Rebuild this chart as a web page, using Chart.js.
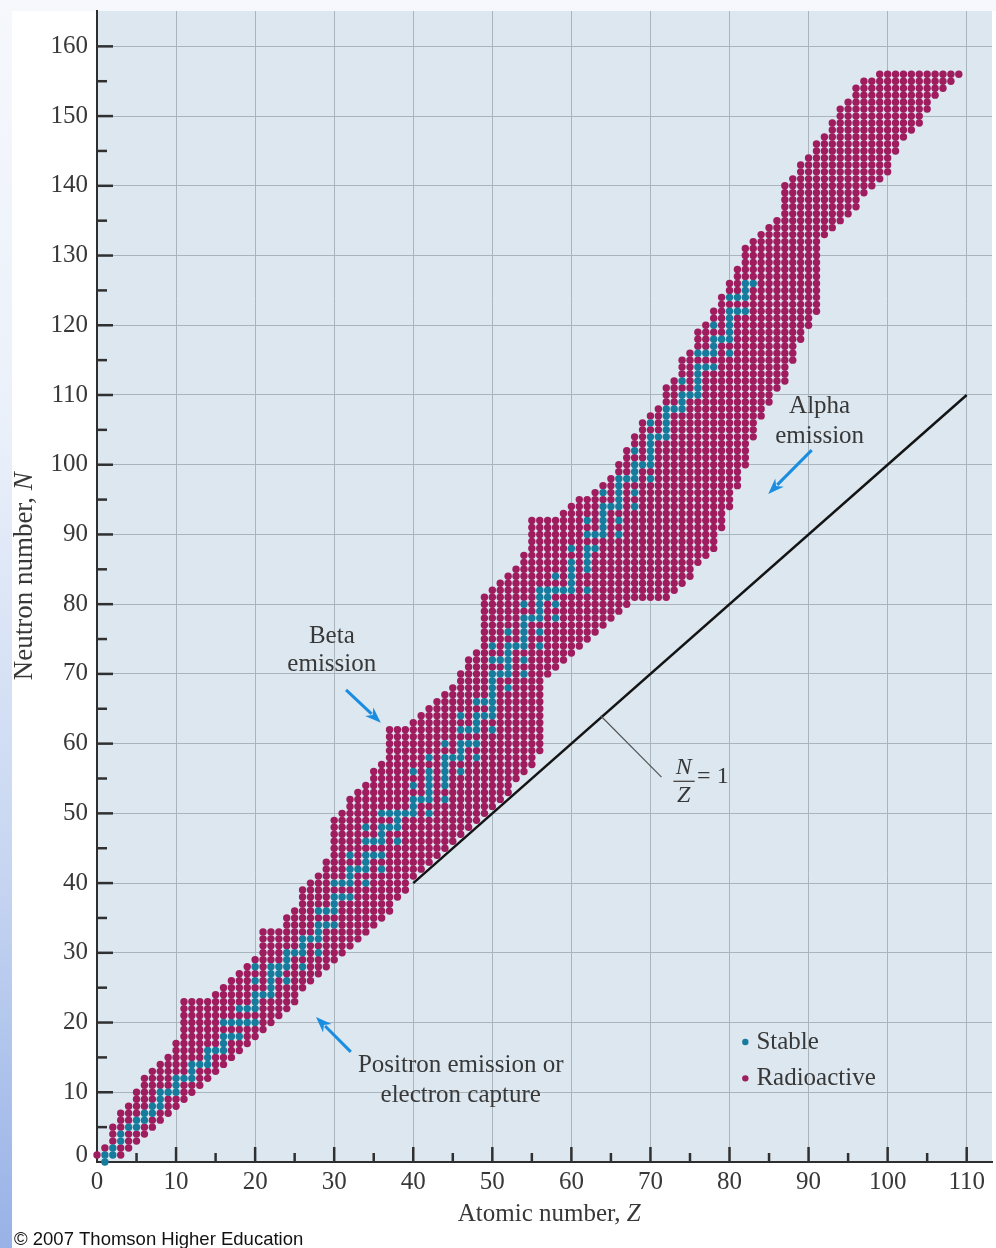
<!DOCTYPE html>
<html>
<head>
<meta charset="utf-8">
<title>Stable and radioactive nuclides</title>
<script src="https://cdn.jsdelivr.net/npm/chart.js@4.4.1/dist/chart.umd.min.js"></script>
<style>
  html, body { margin: 0; padding: 0; }
  body {
    width: 996px; height: 1248px; overflow: hidden;
    background: linear-gradient(#f6f8fc 0%, #eaf0fa 35%, #c6d5f1 70%, #98b2e7 100%);
  }
  canvas { display: block; }
</style>
</head>
<body>
<canvas id="nuclideChart" width="996" height="1248"></canvas>
<script>
//  Atomic numbers Z = 0 .. 109 (index = Z)
//  lowest and highest neutron number N drawn for each Z
const minNeutrons = [
  1, 0, 1, 1, 2, 3, 4, 5, 6, 7,
  8, 9, 10, 11, 12, 13, 14, 15, 16, 17,
  18, 19, 20, 21, 22, 23, 25, 26, 27, 28,
  29, 30, 31, 32, 33, 34, 35, 36, 38, 39,
  41, 42, 43, 44, 45, 46, 47, 48, 49, 50,
  51, 52, 53, 55, 56, 57, 59, 70, 71, 72,
  73, 74, 75, 76, 77, 78, 79, 80, 81, 81,
  81, 81, 81, 82, 83, 84, 86, 87, 88, 91,
  94, 97, 100, 104, 107, 109, 111, 112, 115, 118,
  120, 122, 133, 134, 135, 136, 137, 139, 140, 141,
  142, 145, 147, 148, 149, 151, 153, 154, 155, 156
];
const maxNeutrons = [
  1, 2, 5, 7, 8, 10, 12, 13, 14, 15,
  17, 23, 23, 23, 23, 24, 25, 26, 27, 28,
  29, 33, 33, 33, 35, 36, 39, 40, 41, 43,
  49, 50, 52, 53, 54, 56, 57, 62, 62, 62,
  63, 64, 65, 66, 67, 68, 70, 72, 73, 81,
  82, 83, 84, 85, 87, 92, 92, 92, 92, 93,
  94, 95, 95, 96, 97, 98, 100, 102, 104, 106,
  107, 108, 111, 112, 115, 116, 119, 120, 122, 124,
  126, 128, 131, 132, 133, 134, 135, 140, 141, 143,
  144, 146, 147, 149, 151, 152, 154, 155, 155, 156,
  156, 156, 156, 156, 156, 156, 156, 156, 156, 156
];
//  stable nuclides: neutron numbers for each Z (index = Z)
const stableNeutrons = [
  [], [0, 1], [1, 2], [3, 4], [5], [5, 6], [6, 7], [7, 8], [8, 9, 10], [10],
  [10, 11, 12], [12], [12, 13, 14], [14], [14, 15, 16], [16], [16, 17, 18, 20], [18, 20], [18, 20, 22], [20, 22],
  [20, 22, 23, 24, 26, 28], [24], [24, 25, 26, 27, 28], [27, 28], [26, 28, 29, 30], [30], [28, 30, 31, 32], [32], [30, 32, 33, 34, 36], [34, 36],
  [34, 36, 37, 38, 40], [38, 40], [38, 40, 41, 42, 44], [42], [40, 42, 43, 44, 46, 48], [44, 46], [42, 44, 46, 47, 48, 50], [48, 50], [46, 48, 49, 50], [50],
  [50, 51, 52, 54, 56], [52], [50, 52, 53, 54, 55, 56, 58], [], [52, 54, 55, 56, 57, 58, 60], [58], [56, 58, 59, 60, 62, 64], [60, 62], [58, 60, 62, 63, 64, 66], [64, 66],
  [62, 64, 65, 66, 67, 68, 69, 70, 72, 74], [70, 72], [68, 70, 71, 72, 73, 74, 76], [74], [70, 72, 74, 75, 76, 77, 78, 80], [78], [74, 76, 78, 79, 80, 81, 82], [81, 82], [78, 80, 82, 84], [82],
  [82, 83, 84, 85, 86, 88], [], [82, 85, 86, 87, 88, 90, 92], [88, 90], [90, 91, 92, 93, 94, 96], [94], [90, 92, 94, 95, 96, 97, 98], [98], [94, 96, 98, 99, 100, 102], [100],
  [98, 100, 101, 102, 103, 104, 106], [104], [104, 105, 106, 107, 108], [108], [108, 109, 110, 112], [110], [110, 111, 112, 113, 114, 116], [114, 116], [114, 116, 117, 118, 120], [118],
  [116, 118, 119, 120, 121, 122, 124], [122, 124], [122, 124, 125, 126], [126]
];
//  tick labels and the N/Z = 1 reference line
const zTicks = [0, 10, 20, 30, 40, 50, 60, 70, 80, 90, 100, 110];
const nTicks = [0, 10, 20, 30, 40, 50, 60, 70, 80, 90, 100, 110, 120, 130, 140, 150, 160];
const equalLineZ = [40, 110];

const serif = "'Liberation Serif', 'Times New Roman', serif";
const textColor = '#383838';
const stableColor = '#167b9d';
const radioColor = '#9f1c5e';

//******************************************************************************
//  build the point lists from the per-Z ranges
//******************************************************************************
let stablePoints = [];
let radioPoints = [];
for (let z = 0; z < minNeutrons.length; z++) {
  const stable = stableNeutrons[z] || [];
  for (let n = minNeutrons[z]; n <= maxNeutrons[z]; n++) {
    if (stable.indexOf(n) >= 0) {
      stablePoints.push({ x: z, y: n });
    } else {
      radioPoints.push({ x: z, y: n });
    }
  }
}

//******************************************************************************
//  white panel, blue plot background
//******************************************************************************
const panelBackground = {
  id: 'panelBackground',
  beforeDraw(chart) {
    const { ctx, chartArea: a } = chart;
    ctx.save();
    ctx.fillStyle = '#ffffff';
    ctx.fillRect(12, 11, chart.width - 12, chart.height - 11);
    ctx.fillStyle = '#dce7ef';
    ctx.fillRect(a.left, a.top, a.right - a.left, a.bottom - a.top);
    ctx.restore();
  }
};

function drawArrow(ctx, x1, y1, x2, y2) {
  const ang = Math.atan2(y2 - y1, x2 - x1);
  const head = 16;
  ctx.beginPath();
  ctx.moveTo(x1, y1);
  ctx.lineTo(x2 - Math.cos(ang) * head * 0.8, y2 - Math.sin(ang) * head * 0.8);
  ctx.stroke();
  ctx.beginPath();
  ctx.moveTo(x2, y2);
  ctx.lineTo(x2 - head * Math.cos(ang) + 6 * Math.sin(ang), y2 - head * Math.sin(ang) - 6 * Math.cos(ang));
  ctx.lineTo(x2 - head * 0.7 * Math.cos(ang), y2 - head * 0.7 * Math.sin(ang));
  ctx.lineTo(x2 - head * Math.cos(ang) - 6 * Math.sin(ang), y2 - head * Math.sin(ang) + 6 * Math.cos(ang));
  ctx.closePath();
  ctx.fill();
}

//  text made of plain and italic pieces, centred on (cx, cy)
function drawMixed(ctx, parts, cx, cy, size) {
  let total = 0;
  for (let p of parts) {
    ctx.font = (p[1] ? 'italic ' : '') + size + 'px ' + serif;
    total += ctx.measureText(p[0]).width;
  }
  let x = cx - total / 2;
  ctx.textAlign = 'left';
  for (let p of parts) {
    ctx.font = (p[1] ? 'italic ' : '') + size + 'px ' + serif;
    ctx.fillText(p[0], x, cy);
    x += ctx.measureText(p[0]).width;
  }
}

//******************************************************************************
//  inward tick marks, axis titles, notes, legend and credit line
//******************************************************************************
const chartNotes = {
  id: 'chartNotes',
  afterDraw(chart) {
    const { ctx, chartArea: a, scales: { x, y } } = chart;
    const px = (z) => x.getPixelForValue(z);
    const py = (n) => y.getPixelForValue(n);
    ctx.save();

    // tick marks pointing into the plot
    ctx.strokeStyle = '#303030';
    ctx.lineWidth = 2.5;
    for (let v = 5; v <= 110; v += 5) {
      const len = v % 10 ? 9 : 15;
      ctx.beginPath();
      ctx.moveTo(px(v), a.bottom);
      ctx.lineTo(px(v), a.bottom - len);
      ctx.stroke();
    }
    for (let v = 5; v <= 160; v += 5) {
      const len = v % 10 ? 10 : 16;
      ctx.beginPath();
      ctx.moveTo(a.left, py(v));
      ctx.lineTo(a.left + len, py(v));
      ctx.stroke();
    }

    ctx.fillStyle = textColor;
    ctx.textBaseline = 'middle';

    // the y "0" label sits a little above the axis line
    ctx.font = '25px ' + serif;
    ctx.textAlign = 'right';
    ctx.fillText('0', a.left - 9, py(0) - 7);

    // axis titles
    drawMixed(ctx, [['Atomic number, ', false], ['Z', true]], px(57.2), 1214, 25);
    ctx.save();
    ctx.translate(25, py(84));
    ctx.rotate(-Math.PI / 2);
    drawMixed(ctx, [['Neutron number, ', false], ['N', true]], 0, 0, 27);
    ctx.restore();

    // notes
    ctx.font = '25px ' + serif;
    ctx.textAlign = 'center';
    ctx.fillText('Beta', px(29.7), py(75.4));
    ctx.fillText('emission', px(29.7), py(71.3));
    ctx.fillText('Positron emission or', px(46.0), py(13.8));
    ctx.fillText('electron capture', px(46.0), py(9.6));
    ctx.fillText('Alpha', px(91.4), py(108.3));
    ctx.fillText('emission', px(91.4), py(104.1));

    ctx.strokeStyle = '#1b8de0';
    ctx.fillStyle = '#1b8de0';
    ctx.lineWidth = 3;
    drawArrow(ctx, px(31.5), py(67.7), px(35.9), py(63.0));
    drawArrow(ctx, px(32.1), py(15.8), px(27.7), py(20.8));
    drawArrow(ctx, px(90.4), py(102.1), px(84.9), py(95.8));

    // N/Z = 1 label with leader line
    ctx.strokeStyle = '#555';
    ctx.lineWidth = 1.2;
    ctx.beginPath();
    ctx.moveTo(px(63.7), py(64.0));
    ctx.lineTo(px(71.4), py(55.2));
    ctx.stroke();
    ctx.fillStyle = textColor;
    ctx.strokeStyle = textColor;
    ctx.font = 'italic 24px ' + serif;
    ctx.textAlign = 'center';
    ctx.fillText('N', px(74.2), py(56.6));
    ctx.fillText('Z', px(74.2), py(52.6));
    ctx.beginPath();
    ctx.moveTo(px(72.9), py(54.6));
    ctx.lineTo(px(75.6), py(54.6));
    ctx.stroke();
    ctx.font = '24px ' + serif;
    ctx.textAlign = 'left';
    ctx.fillText('= 1', px(75.9), py(55.3));

    // legend
    const legendItems = [['Stable', stableColor, 17.2], ['Radioactive', radioColor, 12.0]];
    ctx.font = '25px ' + serif;
    for (let item of legendItems) {
      ctx.fillStyle = item[1];
      ctx.beginPath();
      ctx.arc(px(82), py(item[2]), 3.2, 0, Math.PI * 2);
      ctx.fill();
      ctx.fillStyle = textColor;
      ctx.fillText(item[0], px(83.4), py(item[2]));
    }

    // credit line
    ctx.fillStyle = '#111';
    ctx.font = '18.5px "Liberation Sans", Arial, sans-serif';
    ctx.textBaseline = 'alphabetic';
    ctx.fillText('\u00a9 2007 Thomson Higher Education', 14, 1245);
    ctx.restore();
  }
};

new Chart(document.getElementById('nuclideChart').getContext('2d'), {
  data: {
    datasets: [
      {
        type: 'scatter',
        label: 'Stable',
        data: stablePoints,
        backgroundColor: stableColor,
        borderWidth: 0,
        pointRadius: 3.7,
        clip: false,
        order: 0
      },
      {
        type: 'scatter',
        label: 'Radioactive',
        data: radioPoints,
        backgroundColor: radioColor,
        borderWidth: 0,
        pointRadius: 3.7,
        clip: false,
        order: 1
      },
      {
        type: 'line',
        label: 'N/Z = 1',
        data: equalLineZ.map(z => ({ x: z, y: z })),
        borderColor: '#141414',
        borderWidth: 2.5,
        pointRadius: 0,
        order: 2
      }
    ]
  },
  options: {
    responsive: false,
    animation: false,
    devicePixelRatio: 1,
    layout: { padding: { left: 12, top: 11, right: 0, bottom: 0 } },
    plugins: { legend: { display: false }, tooltip: { enabled: false } },
    scales: {
      x: {
        type: 'linear',
        min: 0,
        max: 113.2,
        afterBuildTicks: (s) => { s.ticks = zTicks.map(v => ({ value: v })); },
        afterFit: (s) => {
          s.height = 86;
          s.paddingLeft = 0;
          s.paddingRight = 0;
        },
        border: { color: '#2e2e2e', width: 2 },
        grid: { color: '#a9b4bc', lineWidth: 1, drawTicks: false },
        ticks: { autoSkip: false, maxRotation: 0, padding: 5, color: textColor,
                 font: { family: serif, size: 25 } }
      },
      y: {
        type: 'linear',
        min: 0,
        max: 165.07,
        afterBuildTicks: (s) => { s.ticks = nTicks.map(v => ({ value: v })); },
        afterFit: (s) => {
          s.width = 85;
          s.paddingTop = 0;
          s.paddingBottom = 0;
        },
        border: { color: '#2e2e2e', width: 2 },
        grid: { color: '#a9b4bc', lineWidth: 1, drawTicks: false },
        ticks: { autoSkip: false, padding: 9, color: textColor,
                 font: { family: serif, size: 25 },
                 callback: (v) => (v === 0 ? '' : v) }
      }
    }
  },
  plugins: [panelBackground, chartNotes]
});
</script>
</body>
</html>
